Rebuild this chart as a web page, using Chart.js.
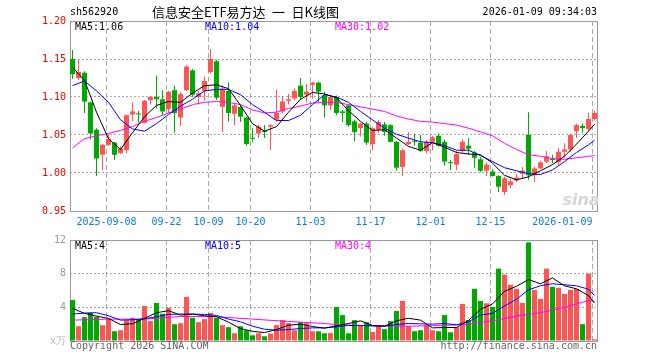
<!DOCTYPE html>
<html lang="zh">
<head>
<meta charset="UTF-8">
<title>信息安全ETF易方达 日K线图</title>
<script src="https://cdn.jsdelivr.net/npm/chart.js"></script>
<style>
  body { margin: 0; background: #fff; }
  #wrap { position: relative; width: 660px; height: 360px; }
  canvas { position: absolute; left: 0; }
  #kline { top: 0; }
  #vol { top: 232px; }
</style>
</head>
<body>
<div id="wrap">
  <canvas id="kline" width="660" height="232"></canvas>
  <canvas id="vol" width="660" height="128"></canvas>
</div>
<script>
// one entry per trading day, 2025-08-29 .. 2026-01-09 (88 days)
const openP = [1.150,1.125,1.132,1.093,1.057,1.024,1.037,1.040,1.026,1.030,
  1.077,1.078,1.066,1.096,1.100,1.097,1.084,1.109,1.073,1.109,
  1.135,1.100,1.108,1.133,1.147,1.087,1.108,1.078,1.087,1.073,
  1.046,1.052,1.055,1.061,1.070,1.081,1.095,1.098,1.115,1.103,
  1.116,1.119,1.102,1.089,1.100,1.081,1.089,1.068,1.059,1.065,
  1.038,1.057,1.064,1.063,1.041,1.008,1.038,1.042,1.040,1.029,
  1.041,1.049,1.041,1.014,1.011,1.029,1.036,1.027,1.018,1.003,
  1.002,0.996,0.975,0.984,0.990,0.999,1.050,0.997,1.006,1.015,
  1.019,1.014,1.028,1.031,1.055,1.062,1.058,1.071];
const highP = [1.162,1.149,1.134,1.094,1.059,1.038,1.051,1.041,1.035,1.077,
  1.093,1.082,1.096,1.101,1.128,1.109,1.108,1.115,1.107,1.142,
  1.137,1.108,1.127,1.163,1.149,1.115,1.119,1.091,1.089,1.074,
  1.059,1.063,1.063,1.064,1.110,1.101,1.104,1.111,1.125,1.117,
  1.120,1.120,1.107,1.102,1.102,1.083,1.090,1.070,1.066,1.067,
  1.061,1.070,1.067,1.064,1.042,1.032,1.054,1.052,1.050,1.043,
  1.049,1.052,1.044,1.017,1.029,1.044,1.046,1.029,1.021,1.014,
  1.005,0.997,0.995,0.992,0.999,1.008,1.080,1.008,1.016,1.029,
  1.024,1.033,1.039,1.052,1.065,1.065,1.079,1.082];
const lowP = [1.124,1.122,1.079,1.044,0.996,1.004,1.036,1.017,1.025,1.026,
  1.068,1.066,1.065,1.090,1.085,1.076,1.079,1.053,1.062,1.108,
  1.100,1.090,1.095,1.131,1.096,1.054,1.068,1.063,1.067,1.036,
  1.041,1.046,1.046,1.030,1.069,1.079,1.090,1.096,1.096,1.093,
  1.098,1.093,1.073,1.083,1.076,1.067,1.061,1.042,1.048,1.037,
  1.030,1.053,1.049,1.040,1.003,0.996,1.037,1.036,1.028,1.026,
  1.030,1.035,1.010,1.004,1.004,1.027,1.024,1.007,1.001,0.996,
  0.995,0.975,0.971,0.980,0.988,0.992,0.991,0.988,1.005,1.013,
  1.013,1.011,1.020,1.028,1.046,1.053,1.056,1.069];
const closeP = [1.130,1.133,1.094,1.052,1.019,1.037,1.045,1.024,1.032,1.076,
  1.081,1.077,1.095,1.100,1.097,1.081,1.107,1.079,1.104,1.140,
  1.103,1.105,1.121,1.150,1.099,1.111,1.079,1.089,1.074,1.038,
  1.045,1.061,1.054,1.063,1.079,1.094,1.097,1.108,1.100,1.107,
  1.119,1.107,1.089,1.100,1.079,1.079,1.063,1.054,1.065,1.040,
  1.059,1.067,1.054,1.041,1.007,1.030,1.041,1.041,1.029,1.041,
  1.047,1.036,1.015,1.013,1.025,1.041,1.032,1.020,1.003,1.011,
  0.996,0.982,0.993,0.989,0.994,1.003,0.997,1.006,1.014,1.022,
  1.017,1.028,1.031,1.050,1.063,1.059,1.071,1.079];
// volume, 万手
const vol = [4.88,1.76,2.84,3.36,2.88,1.88,2.68,1.16,1.28,2.48,
  2.76,2.6,4.16,2.36,4.52,3.24,3.96,2.0,2.12,5.24,
  2.76,2.24,2.6,3.32,2.72,1.88,1.64,0.92,1.76,1.28,
  0.68,0.92,0.56,0.88,1.88,2.48,2.12,1.28,2.24,2.12,
  1.16,1.16,0.92,0.94,4.04,3.08,0.92,2.48,1.88,2.24,
  1.08,1.76,1.4,2.36,3.56,4.76,1.76,1.16,1.28,1.88,
  1.28,1.16,3.08,1.04,1.64,4.4,2.48,6.2,4.76,4.48,
  4.04,8.6,7.88,6.68,6.2,4.52,11.72,6.08,5.0,8.6,
  6.44,6.32,5.6,6.08,6.2,2.0,8.0,0.2];

// moving averages, at these day indexes
const maIdx = [0,2,4,6,8,10,12,14,16,18,20,22,24,26,28,30,32,34,36,38,40,42,
  44,46,48,50,52,54,56,58,60,62,64,66,68,70,72,74,76,78,80,82,84,86,87];
const ma5P = [1.139,1.122,1.080,1.045,1.031,1.053,1.074,1.089,1.094,1.093,1.105,1.115,
  1.116,1.111,1.089,1.065,1.055,1.061,1.080,1.097,1.106,1.104,1.099,1.082,1.068,1.056,
  1.057,1.046,1.035,1.030,1.040,1.034,1.027,1.025,1.024,1.013,0.997,0.991,0.995,1.003,
  1.011,1.022,1.038,1.055,1.064];
const ma10P = [1.115,1.121,1.108,1.093,1.070,1.058,1.055,1.065,1.077,1.088,1.097,1.108,
  1.110,1.110,1.103,1.090,1.080,1.069,1.069,1.076,1.090,1.103,1.100,1.093,1.081,1.070,
  1.059,1.051,1.046,1.041,1.040,1.036,1.030,1.030,1.023,1.015,1.007,1.003,0.999,0.998,
  1.004,1.015,1.027,1.037,1.043];
const ma30P = [1.033,1.045,1.049,1.052,1.056,1.061,1.068,1.073,1.079,1.084,1.090,1.093,
  1.094,1.093,1.090,1.083,1.079,1.080,1.085,1.088,1.092,1.093,1.093,1.090,1.087,1.084,
  1.081,1.075,1.071,1.068,1.067,1.065,1.063,1.059,1.054,1.049,1.039,1.031,1.024,1.022,
  1.019,1.018,1.020,1.022,1.023];
const vMa5 = [3.88,3.28,2.96,2.68,1.96,2.05,2.7,3.36,3.6,3.08,3.2,3.0,2.88,2.24,1.48,
  1.15,1.0,1.36,1.88,2.0,1.72,1.52,1.8,2.08,2.4,1.84,1.76,2.4,2.7,2.48,1.56,1.6,1.6,
  2.45,3.76,4.4,5.9,6.5,7.3,6.8,7.5,6.56,6.2,5.4,4.5];
const vMa10 = [3.2,3.32,3.36,3.0,2.48,2.52,2.64,2.88,3.16,3.2,3.2,3.16,3.04,2.6,2.28,
  1.76,1.4,1.28,1.36,1.48,1.56,1.56,1.68,1.84,1.84,1.8,1.76,1.96,2.08,2.04,2.0,2.08,
  1.92,2.28,3.08,3.28,4.16,4.96,6.08,6.56,6.8,6.68,6.56,6.16,5.4];
const vMa30Idx = [0,6,12,18,24,30,36,42,44,50,56,62,66,70,74,78,82,86,87];
const vMa30 = [2.48,2.6,2.6,2.92,2.88,2.6,2.32,2.08,1.94,1.8,1.76,1.84,2.0,2.4,2.96,
  3.36,4.0,4.8,4.76];

const tickIdx = [6, 16, 23, 30, 40, 50, 60, 70, 87];
const tickText = ['2025-09-08','09-22','10-09','10-20','11-03','11-17','12-01','12-15','2026-01-09'];

const MONO = '"DejaVu Sans Mono", monospace';
const RED = 'rgb(253,84,84)';
const GREEN = 'rgb(0,168,0)';
Chart.defaults.font.family = MONO;
Chart.defaults.font.size = 10;

const idx = openP.map((_, i) => i);
const candleColor = idx.map(i => closeP[i] >= openP[i] ? RED : GREEN);
const pts = (xs, ys) => xs.map((x, k) => ({ x, y: ys[k] }));

function maLine(xs, ys, color) {
  return { type: 'line', data: pts(xs, ys), borderColor: color, borderWidth: 1,
    pointRadius: 0, tension: 0, order: 0 };
}

function xScale(labels) {
  return {
    type: 'linear', min: -0.42, max: 87.42, offset: false,
    afterBuildTicks: s => { s.ticks = tickIdx.map(v => ({ value: v - 0.33 })); },
    grid: { color: '#aaa', drawTicks: false, offset: false },
    border: { display: false, dash: [5, 3] },
    ticks: {
      display: labels, autoSkip: false, maxRotation: 0, padding: 5, color: '#0a80d0',
      callback: (v, k) => k === tickText.length - 1 ? tickText[k] + '          ' : tickText[k]
    },
    afterFit: s => { s.height = labels ? 21 : 0; s.paddingLeft = 0; s.paddingRight = 0; }
  };
}

const boxPlugin = {
  id: 'box',
  beforeDatasetsDraw(chart) {
    const { ctx, chartArea: a } = chart;
    ctx.save();
    ctx.strokeStyle = '#999';
    ctx.lineWidth = 1;
    ctx.strokeRect(a.left + 0.5, a.top + 0.5, a.right - a.left, a.bottom - a.top);
    ctx.restore();
  }
};

function textPlugin(items) {
  return {
    id: 'texts',
    afterDraw(chart) {
      const c = chart.ctx;
      c.save();
      c.textBaseline = 'middle';
      items.forEach(t => {
        c.font = t.font || '10px ' + MONO;
        c.fillStyle = t.color;
        c.textAlign = t.align || 'left';
        c.fillText(t.text, t.x, t.y);
      });
      c.restore();
    }
  };
}

new Chart(document.getElementById('kline'), {
  type: 'bar',
  data: {
    datasets: [
      maLine(maIdx, ma5P, '#000'),
      maLine(maIdx, ma10P, '#0000ff'),
      maLine(maIdx, ma30P, '#ff00ff'),
      { type: 'bar', data: idx.map(i => ({ x: i, y: [openP[i], closeP[i]] })),
        backgroundColor: candleColor, barThickness: 5, minBarLength: 1,
        grouped: false, inflateAmount: 0, order: 3 },
      { type: 'bar', data: idx.map(i => ({ x: i, y: [lowP[i], highP[i]] })),
        backgroundColor: candleColor, barThickness: 1,
        grouped: false, inflateAmount: 0, order: 4 }
    ]
  },
  options: {
    responsive: false, animation: false, devicePixelRatio: 1,
    layout: { padding: { left: 0, right: 63, top: 21, bottom: 0 } },
    plugins: { legend: { display: false }, tooltip: { enabled: false } },
    scales: {
      x: xScale(true),
      y: {
        min: 0.95, max: 1.2,
        ticks: { stepSize: 0.05, padding: 4, color: '#e00', callback: v => v.toFixed(2) },
        grid: { color: '#aaa', drawTicks: false },
        border: { display: false, dash: [2, 2] },
        afterFit: s => { s.width = 70; s.paddingTop = 0; s.paddingBottom = 0; }
      }
    }
  },
  plugins: [boxPlugin, textPlugin([
    { text: 'sh562920', x: 70, y: 12, color: '#000' },
    { text: '信息安全ETF易方达\u2002一\u2002日K线图', x: 152, y: 12, color: '#000',
      font: '13px "Noto Sans CJK SC"' },
    { text: '2026-01-09 09:34:03', x: 597, y: 12, color: '#000', align: 'right' },
    { text: 'MA5:1.06', x: 75, y: 27, color: '#000' },
    { text: 'MA10:1.04', x: 205, y: 27, color: '#0000ff' },
    { text: 'MA30:1.02', x: 335, y: 27, color: '#ff00ff' },
    { text: 'sina', x: 581, y: 201, color: '#d6d6d6', align: 'center',
      font: 'italic bold 16px "DejaVu Sans"' }
  ])]
});

new Chart(document.getElementById('vol'), {
  type: 'bar',
  data: {
    datasets: [
      maLine(maIdx, vMa5, '#000'),
      maLine(maIdx, vMa10, '#0000ff'),
      maLine(vMa30Idx, vMa30, '#ff00ff'),
      { type: 'bar', data: idx.map(i => ({ x: i, y: vol[i] })),
        backgroundColor: candleColor, barThickness: 5,
        grouped: false, inflateAmount: 0, order: 3 }
    ]
  },
  options: {
    responsive: false, animation: false, devicePixelRatio: 1,
    layout: { padding: { left: 0, right: 63, top: 8, bottom: 19 } },
    plugins: { legend: { display: false }, tooltip: { enabled: false } },
    scales: {
      x: xScale(false),
      y: {
        min: 0, max: 12,
        ticks: { stepSize: 4, padding: 4,
          color: c => c.tick.value === 0 ? '#b8b8b8' : '#999',
          callback: v => v === 0 ? 'x万' : String(v) },
        grid: { color: '#aaa', drawTicks: false },
        border: { display: false, dash: [2, 2] },
        afterFit: s => { s.width = 70; s.paddingTop = 0; s.paddingBottom = 0; }
      }
    }
  },
  plugins: [boxPlugin, textPlugin([
    { text: 'MA5:4', x: 75, y: 14, color: '#000' },
    { text: 'MA10:5', x: 205, y: 14, color: '#0000ff' },
    { text: 'MA30:4', x: 335, y: 14, color: '#ff00ff' },
    { text: 'Copyright 2026 SINA.COM', x: 70, y: 114, color: '#666' },
    { text: 'http://finance.sina.com.cn', x: 597, y: 114, color: '#666', align: 'right' }
  ])]
});
</script>
</body>
</html>
